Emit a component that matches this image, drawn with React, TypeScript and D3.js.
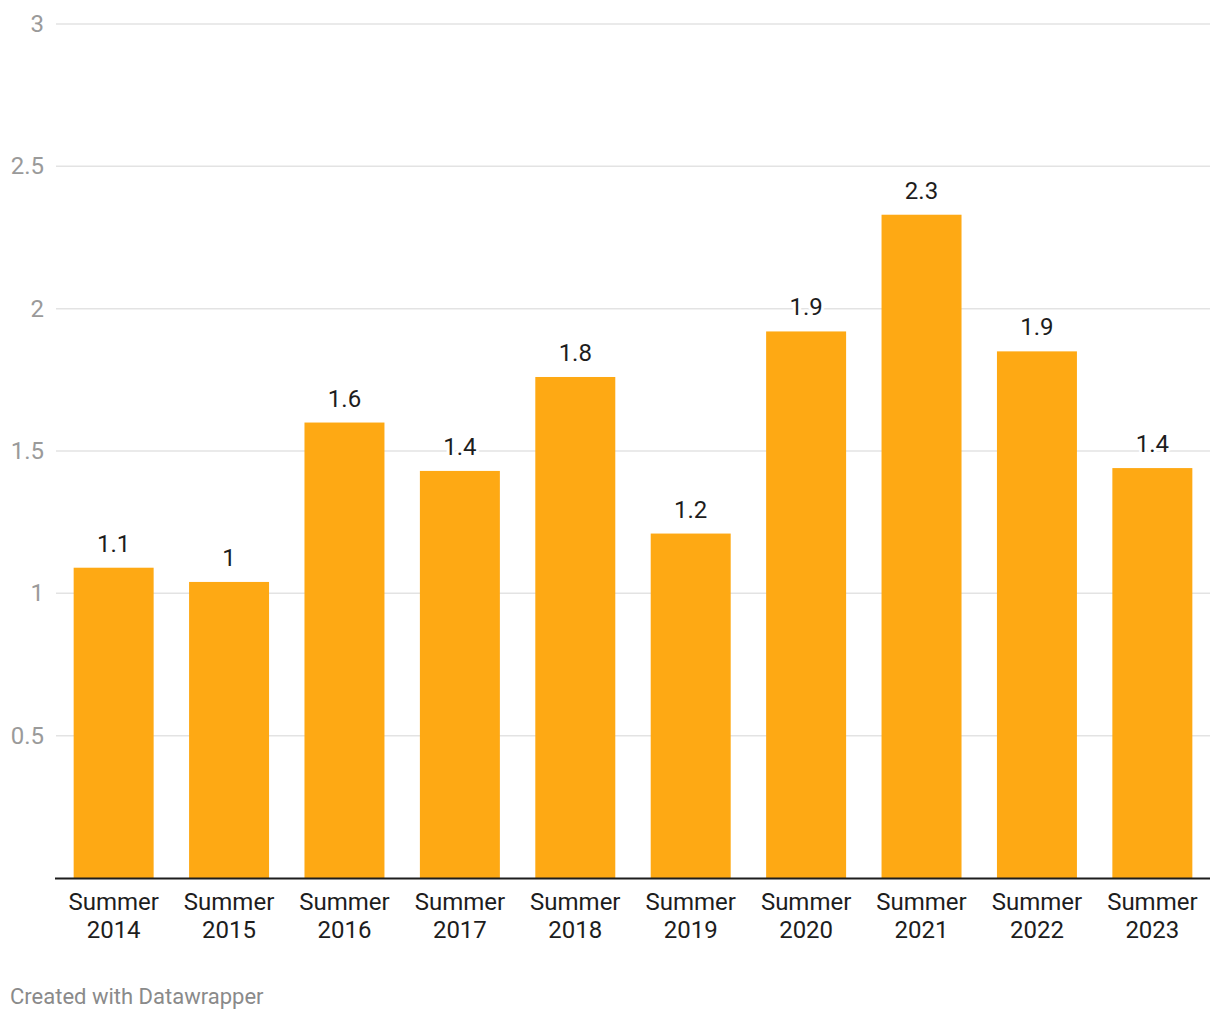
import React from 'react';
import * as d3 from 'd3';

const seasons = ['2014', '2015', '2016', '2017', '2018', '2019', '2020', '2021', '2022', '2023'];
const values = [1.09, 1.04, 1.6, 1.43, 1.76, 1.21, 1.92, 2.33, 1.85, 1.44];
const yTicks = [0.5, 1, 1.5, 2, 2.5, 3];

const W = 1220;
const H = 1020;
const margin = { top: 24, right: 10, bottom: 142, left: 56 };
const FONT = 'Roboto, "Noto Sans", sans-serif';

export default function App() {
  const x = d3.scaleBand<string>()
    .domain(seasons)
    .range([margin.left, W - margin.right])
    .paddingInner(0.307)
    .paddingOuter(0.153);

  const y = d3.scaleLinear()
    .domain([0, 3])
    .range([H - margin.bottom, margin.top]);

  const fmt = d3.format('.1~f');
  const baseY = y(0);

  return (
    <svg width={W} height={H} style={{ position: 'absolute', left: 0, top: 0, fontFamily: FONT }}>
      <rect width={W} height={H} fill="#fff" />
      {/* grid + y labels */}
      {yTicks.map(t => (
        <g key={t}>
          <line x1={margin.left} x2={W - margin.right} y1={y(t)} y2={y(t)} stroke="#e3e3e3" strokeWidth={1.5} />
          <text x={44} y={y(t) + 8} textAnchor="end" fontSize={24} fill="#9a9a9a">{t}</text>
        </g>
      ))}
      {/* bars */}
      {seasons.map((s, i) => (
        <rect key={s} x={x(s)} y={y(values[i])} width={x.bandwidth()} height={baseY - y(values[i])} fill="#fea914" />
      ))}
      {/* value labels with white halo */}
      {seasons.map((s, i) => (
        <text key={'v' + s} x={(x(s) as number) + x.bandwidth() / 2} y={y(values[i]) - 16}
          textAnchor="middle" fontSize={24} fill="#1d1d1d"
          stroke="#fff" strokeWidth={6} paintOrder="stroke" strokeLinejoin="round">
          {fmt(values[i])}
        </text>
      ))}
      {/* x axis */}
      <line x1={margin.left - 1} x2={W - margin.right} y1={baseY + 0.5} y2={baseY + 0.5} stroke="#1d1d1d" strokeWidth={2} />
      {seasons.map(s => {
        const cx = (x(s) as number) + x.bandwidth() / 2;
        return (
          <text key={'x' + s} x={cx} textAnchor="middle" fontSize={24} fill="#1d1d1d">
            <tspan x={cx} y={910}>Summer</tspan>
            <tspan x={cx} y={938}>{s}</tspan>
          </text>
        );
      })}
      <text x={10} y={1004} fontSize={22} fill="#8a8a8a">Created with Datawrapper</text>
    </svg>
  );
}
